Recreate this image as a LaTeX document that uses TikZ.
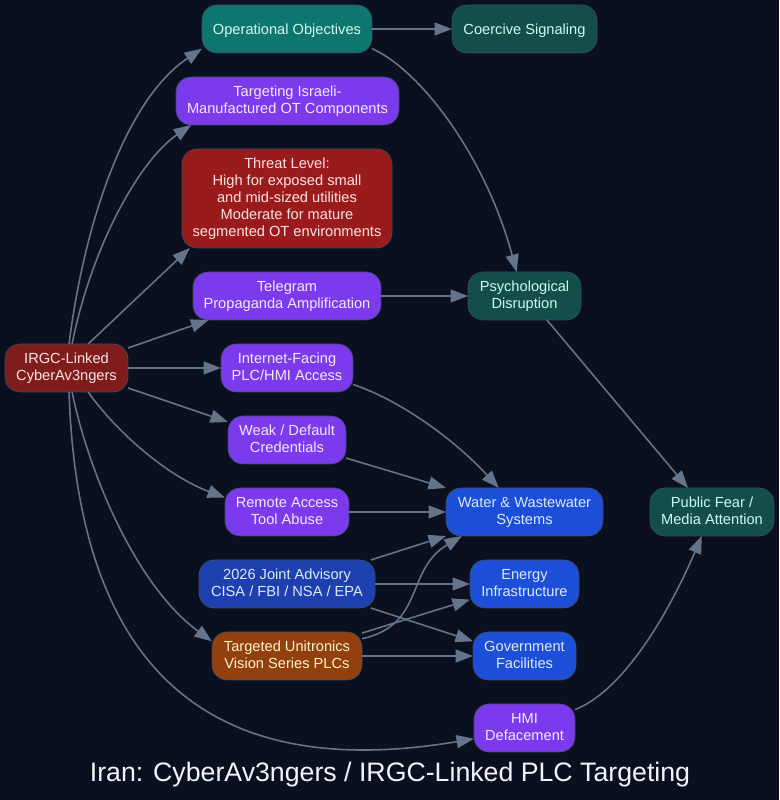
\documentclass[tikz,border=0pt]{standalone}
\usepackage{fontspec}
\setmainfont{Liberation Sans}
\usetikzlibrary{arrows.meta}

\definecolor{bgdark}{HTML}{0B1020}
\definecolor{edgegray}{HTML}{64748B}
\definecolor{boxline}{HTML}{3B4A63}
\definecolor{violetfill}{HTML}{7C3AED}
\definecolor{violettext}{HTML}{F3E8FF}
\definecolor{tealfill}{HTML}{134E4A}
\definecolor{tealbright}{HTML}{0F766E}
\definecolor{tealtext}{HTML}{CCFBF1}
\definecolor{bluefill}{HTML}{1D4ED8}
\definecolor{bluedeep}{HTML}{1E40AF}
\definecolor{bluetext}{HTML}{DBEAFE}
\definecolor{redfill}{HTML}{991B1B}
\definecolor{reddeep}{HTML}{7F1D1D}
\definecolor{redtext}{HTML}{FEE2E2}
\definecolor{amberfill}{HTML}{92400E}
\definecolor{ambertext}{HTML}{FEF3C7}
\definecolor{titletext}{HTML}{F1F5F9}

\begin{document}
\begin{tikzpicture}[
    block/.style={rectangle, rounded corners=0.3cm, draw=boxline, line width=0.35pt, inner sep=0pt, outer sep=0pt,
                  minimum height=0.96cm, align=center, font=\fontsize{8.33}{9.68}\selectfont,
                  execute at begin node={\rule[-0.06cm]{0pt}{0.36cm}},
                  execute at end node={\rule[-0.06cm]{0pt}{0.32cm}}},
    tactic/.style={block, fill=violetfill, text=violettext},
    effect/.style={block, fill=tealfill, text=tealtext},
    sector/.style={block, fill=bluefill, text=bluetext},
    arrow/.style={-{Stealth[length=3.5mm, width=2.6mm, inset=0pt]}, draw=edgegray, line width=0.9pt},
]
    \fill[bgdark] (0, 0) rectangle (15.58, 16);
    \useasboundingbox (0, 0) rectangle (15.58, 16);

    % Source
    \node[block, fill=reddeep, text=redtext, minimum width=2.46cm] (irgc) at (1.33, 8.64) {IRGC-Linked\\CyberAv3ngers};

    % Middle column
    \node[effect, fill=tealbright, minimum width=3.4cm] (ops) at (5.74, 15.42) {Operational Objectives};
    \node[tactic, minimum width=4.46cm] (israeli) at (5.75, 13.98) {Targeting Israeli-\\Manufactured OT Components};
    \node[block, fill=redfill, text=redtext, minimum width=4.2cm, minimum height=1.98cm] (threat) at (5.74, 12.03) {Threat Level:\\High for exposed small\\and mid-sized utilities\\Moderate for mature\\segmented OT environments};
    \node[tactic, minimum width=3.76cm] (telegram) at (5.74, 10.08) {Telegram\\Propaganda Amplification};
    \node[tactic, minimum width=2.64cm] (access) at (5.74, 8.64) {Internet-Facing\\PLC/HMI Access};
    \node[tactic, minimum width=2.36cm] (creds) at (5.74, 7.2) {Weak / Default\\Credentials};
    \node[tactic, minimum width=2.48cm] (remote) at (5.74, 5.76) {Remote Access\\Tool Abuse};
    \node[block, fill=bluedeep, text=bluetext, minimum width=3.52cm] (advisory) at (5.74, 4.32) {2026 Joint Advisory\\CISA / FBI / NSA / EPA};
    \node[block, fill=amberfill, text=ambertext, minimum width=3cm] (plc) at (5.74, 2.88) {Targeted Unitronics\\Vision Series PLCs};

    % Right columns
    \node[effect, minimum width=2.9cm] (coercive) at (10.49, 15.42) {Coercive Signaling};
    \node[effect, minimum width=2.26cm] (psych) at (10.49, 10.08) {Psychological\\Disruption};
    \node[sector, minimum width=3.14cm] (water) at (10.49, 5.76) {Water \& Wastewater\\Systems};
    \node[sector, minimum width=2.18cm] (energy) at (10.49, 4.32) {Energy\\Infrastructure};
    \node[sector, minimum width=2.06cm] (gov) at (10.49, 2.88) {Government\\Facilities};
    \node[tactic, minimum width=2.02cm] (hmi) at (10.49, 1.44) {HMI\\Defacement};
    \node[effect, minimum width=2.48cm] (fear) at (14.24, 5.76) {Public Fear /\\Media Attention};

    % Edges from the source
    \draw[arrow] (irgc.84) .. controls (1.68, 11.5) and (2.5, 14) .. (ops.193);
    \draw[arrow] (irgc.77) .. controls (1.84, 11.1) and (2.8, 12.8) .. (israeli.194);
    \draw[arrow] (irgc.48) -- (threat.207);
    \draw[arrow] (irgc.18) -- (telegram.197);
    \draw[arrow] (irgc) -- (access);
    \draw[arrow] (irgc.342) -- (creds.163);
    \draw[arrow] (irgc.312) .. controls (2.3, 7.4) and (3.3, 6.5) .. (remote.167);
    \draw[arrow] (irgc.283) .. controls (1.76, 6.6) and (2.7, 4.3) .. (plc.169);
    \draw[arrow] (irgc.276) .. controls (1.56, 2.8) and (4, 0.3) .. (hmi.192);

    % Effects
    \draw[arrow] (ops) -- (coercive);
    \draw[arrow] (ops.347) .. controls (8.4, 14.6) and (9.7, 12.9) .. (psych.108);
    \draw[arrow] (telegram) -- (psych);
    \draw[arrow] (psych.313) -- (fear.135);
    \draw[arrow] (hmi.20) .. controls (12.5, 2.2) and (13.4, 3.8) .. (fear.247);

    % Into the targets
    \draw[arrow] (access.346) .. controls (8, 8) and (9.1, 7.2) .. (water.137);
    \draw[arrow] (creds.343) -- (water.163);
    \draw[arrow] (remote) -- (water);
    \draw[arrow] (advisory.16) -- (water.197);
    \draw[arrow] (advisory) -- (energy);
    \draw[arrow] (advisory.344) -- (gov.164);
    \draw[arrow] (plc.13) .. controls (8.5, 3.5) and (8.1, 4.6) .. (water.201);
    \draw[arrow] (plc.17) -- (energy.196);
    \draw[arrow] (plc) -- (gov);

    % Title
    \node[text=titletext, font=\fontsize{15.2}{18}\selectfont] (title) at (7.8, 0.5) {Iran: CyberAv3ngers / IRGC-Linked PLC Targeting};

\end{tikzpicture}
\end{document}
